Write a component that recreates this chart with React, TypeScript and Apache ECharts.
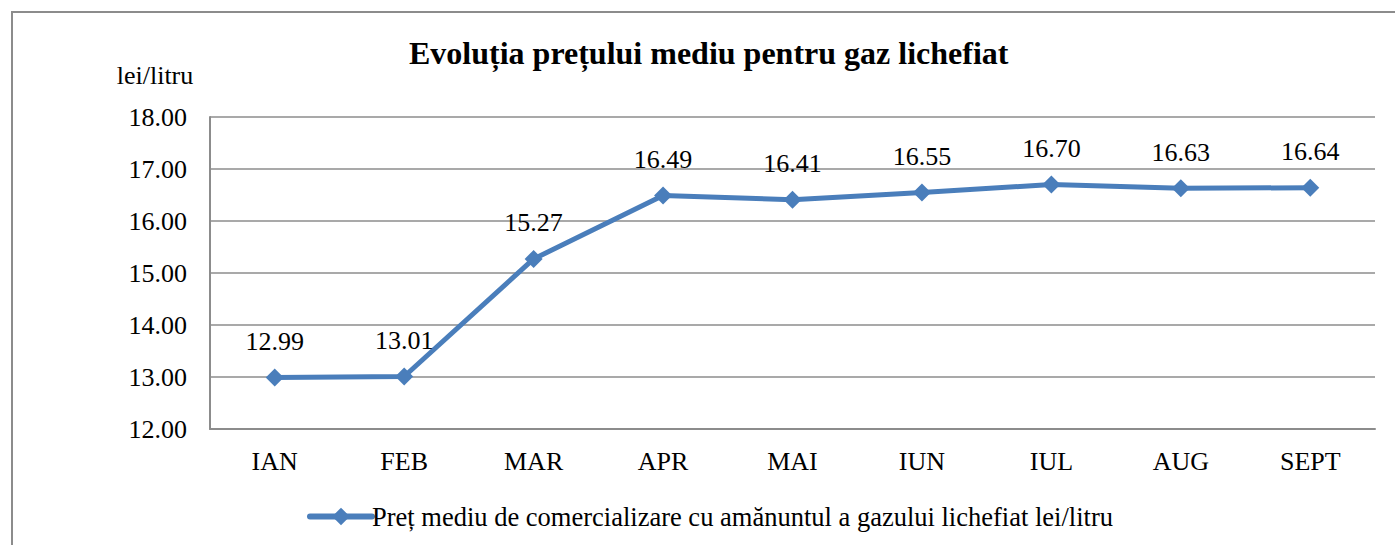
import React, { useEffect, useRef } from "react";
import * as echarts from "echarts";

const categories = ["IAN", "FEB", "MAR", "APR", "MAI", "IUN", "IUL", "AUG", "SEPT"];
const prices = [12.99, 13.01, 15.27, 16.49, 16.41, 16.55, 16.7, 16.63, 16.64];
const seriesName = "Preț mediu de comercializare cu amănuntul a gazului lichefiat lei/litru";
const titleText = "Evoluția prețului mediu pentru gaz lichefiat";
const yUnit = "lei/litru";

const FONT = "Liberation Serif";
const BLUE = "#4a7ebb";
const GRAY = "#8c8c8c";

export default function App() {
  const ref = useRef<HTMLDivElement>(null);
  useEffect(() => {
    if (!ref.current) return;
    const chart = echarts.init(ref.current, undefined, { renderer: "svg" });
    chart.setOption({
      animation: false,
      backgroundColor: "#ffffff",
      textStyle: { fontFamily: FONT },
      title: {
        text: titleText,
        left: 404,
        top: 32,
        textStyle: { fontFamily: FONT, fontWeight: "bold", fontSize: 32, color: "#000" },
      },
      graphic: [
        {
          type: "rect",
          shape: { x: 12, y: 12, width: 1400, height: 560 },
          style: { fill: "none", stroke: GRAY, lineWidth: 2 },
          silent: true,
        },
        {
          type: "text",
          x: 155,
          y: 75,
          style: {
            text: yUnit,
            fontFamily: FONT,
            fontSize: 26,
            fill: "#000",
            align: "center",
            verticalAlign: "middle",
          },
        },
      ],
      legend: {
        top: 498,
        left: 302,
        itemWidth: 62,
        itemHeight: 22,
        itemGap: 0,
        textStyle: { fontFamily: FONT, fontSize: 26.5, color: "#000", padding: [0, 0, 0, -5] },
        data: [
          {
            name: seriesName,
            lineStyle: { width: 6, color: BLUE, cap: "round" },
            itemStyle: { color: BLUE },
          },
        ],
      },
      grid: { left: 210, top: 117, right: 20, bottom: 116 },
      xAxis: {
        type: "category",
        data: categories,
        boundaryGap: true,
        axisTick: { show: false },
        axisLine: { lineStyle: { color: GRAY, width: 2 } },
        axisLabel: { fontFamily: FONT, fontSize: 26, color: "#000", margin: 19 },
      },
      yAxis: {
        type: "value",
        min: 12,
        max: 18,
        interval: 1,
        axisLine: { show: true, lineStyle: { color: GRAY, width: 2 } },
        axisTick: { show: false },
        splitLine: { lineStyle: { color: GRAY, width: 1.5 } },
        axisLabel: {
          fontFamily: FONT,
          fontSize: 26,
          color: "#000",
          margin: 23,
          formatter: (v: number) => v.toFixed(2),
        },
      },
      series: [
        {
          name: seriesName,
          type: "line",
          data: prices,
          symbol: "diamond",
          symbolSize: 18,
          lineStyle: { color: BLUE, width: 5 },
          itemStyle: { color: BLUE },
          label: {
            show: true,
            position: "top",
            distance: 14,
            fontFamily: FONT,
            fontSize: 26,
            color: "#000",
            formatter: (p: any) => Number(p.value).toFixed(2),
          },
        },
      ],
    });
    return () => chart.dispose();
  }, []);
  return (
    <div
      ref={ref}
      style={{ position: "fixed", left: 0, top: 0, width: 1395, height: 545 }}
    />
  );
}
